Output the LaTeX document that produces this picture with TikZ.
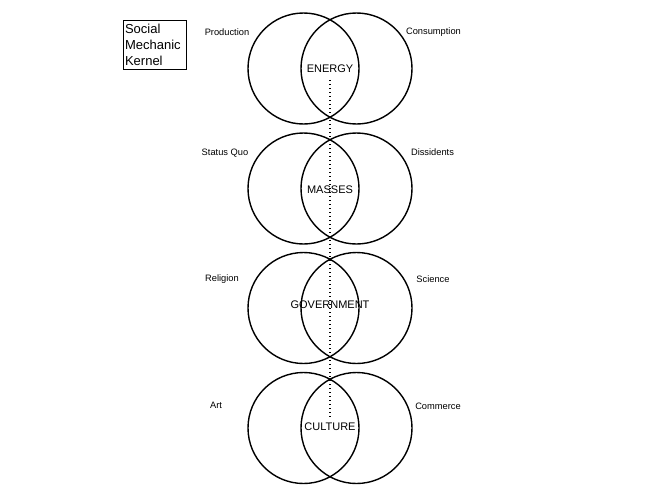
\documentclass[tikz,border=0pt]{standalone}
\usepackage{fontspec}
\setmainfont{Liberation Sans}
\begin{document}
\begin{tikzpicture}[x=1pt,y=-1pt,
  ring/.style={draw,line width=1.4pt,circle,minimum size=111pt,inner sep=0pt},
  side/.style={font=\fontsize{9.3}{11}\selectfont,inner sep=0pt},
  core/.style={font=\fontsize{11}{13}\selectfont,inner sep=1pt,fill=none}]
\useasboundingbox (0,0) rectangle (660,495);
% rows
\foreach \yy/\nm in {68.5/a,188.5/b,308/c,428/d}{
  \node[ring] (\nm L) at (303.5,\yy) {};
  \node[ring] (\nm R) at (356.5,\yy) {};
}
\node[core] (energy) at (330,69) {ENERGY};
\node[core] (masses) at (330,190) {MASSES};
\node[core] (gov) at (330,305) {GOVERNMENT};
\node[core] (culture) at (330,427) {CULTURE};
\coordinate (dtop) at (330,80);
\coordinate (dbot) at (330,418);
\draw[line width=1.1pt,dash pattern=on 1.1pt off 2.9pt] (dtop) -- (dbot);
\node[side] (prod) at (227,32) {Production};
\node[side] (cons) at (433.5,32) {Consumption};
\node[side] (sq) at (225,153) {Status Quo};
\node[side] (diss) at (432.5,152) {Dissidents};
\node[side] (rel) at (222,279) {Religion};
\node[side] (sci) at (433,279) {Science};
\node[side] (art) at (216,405) {Art};
\node[side] (com) at (438,406) {Commerce};
\node[draw,line width=1.1pt,anchor=north west,minimum width=63pt,minimum height=49pt,
  inner sep=1.2pt,align=left,text width=60pt,font=\fontsize{13}{16}\selectfont] (title)
  at (123,20) {Social\\Mechanic\\Kernel};
\end{tikzpicture}
\end{document}
